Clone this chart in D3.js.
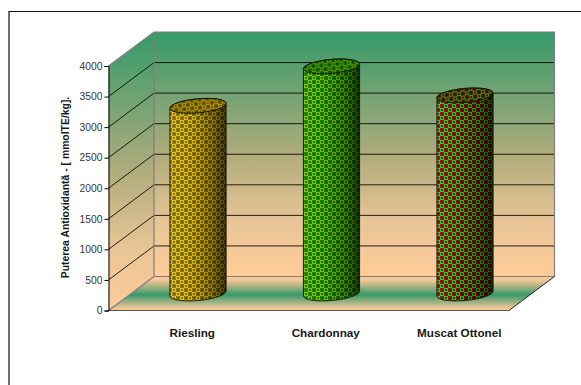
<!DOCTYPE html>
<html>
<head>
<meta charset="utf-8">
<style>
  html, body { margin: 0; padding: 0; background: #fff; }
  svg { display: block; }
  text { font-family: "Liberation Sans", Arial, sans-serif; fill: #1a1a1a; }
</style>
<script src="https://cdn.jsdelivr.net/npm/d3@7/dist/d3.min.js"></script>
</head>
<body>
<svg id="chart" width="581" height="385"></svg>
<script>
// Antioxidant power of three wine varieties
const categories = ["Riesling", "Chardonnay", "Muscat Ottonel"];
const values = [3070, 3715, 3240];
const tickValues = [0, 500, 1000, 1500, 2000, 2500, 3000, 3500, 4000];
const yTitle = "Puterea Antioxidantă - [ mmolTE/kg].";
const barPalettes = [
  { light: "#eec400", dark: "#86720a", deep: "#5e5200" },
  { light: "#8cbc00", dark: "#0a8200", deep: "#006000" },
  { light: "#08e808", dark: "#820a0a", deep: "#5a0000" }
];

const svg = d3.select("#chart");
const defs = svg.append("defs");

// Oblique projection of the box: front-left floor corner plus a depth offset
const front = { left: 108.5, right: 509, bottom: 310.5, top: 66 };
const depth = { x: 45.5, y: -34 };

const y = d3.scaleLinear().domain([0, 4000]).range([front.bottom, front.top]);
const x = d3.scaleBand().domain(categories)
  .range([front.left, front.right]).paddingInner(0.58).paddingOuter(0.29);

function vGrad(id, stops) {
  const g = defs.append("linearGradient").attr("id", id)
    .attr("x1", 0).attr("y1", 0).attr("x2", 0).attr("y2", 1);
  stops.forEach(s => g.append("stop").attr("offset", s[0]).attr("stop-color", s[1]));
  return g;
}

vGrad("wallFill", [[0, "#359a69"], [0.5, "#b0ac7c"], [0.78, "#e9c596"], [1, "#ffcc99"]]);
vGrad("floorFill", [[0, "#ffcc99"], [0.12, "#efc595"], [0.36, "#8bab7d"], [0.54, "#349a69"], [0.72, "#8fad7f"], [0.93, "#f0c696"], [1, "#f8ca97"]]);

// Walls and floor
const bx = front.left + depth.x, rx = front.right + depth.x;
const by = y(0) + depth.y, ty = y(4000) + depth.y;

svg.append("polygon")
  .attr("points", [[bx, ty], [rx, ty], [rx, by], [bx, by]].join(" "))
  .attr("fill", "url(#wallFill)");
svg.append("polygon")
  .attr("points", [[front.left, y(4000)], [bx, ty], [bx, by], [front.left, y(0)]].join(" "))
  .attr("fill", "url(#wallFill)");
svg.append("polygon")
  .attr("points", [[front.left, y(0)], [front.right, y(0)], [rx, by], [bx, by]].join(" "))
  .attr("fill", "url(#floorFill)");

// Gridlines run along the side wall and across the back wall
const grid = svg.append("g").attr("fill", "none").attr("stroke", "#000").attr("stroke-width", 1);
tickValues.filter(v => v > 0 && v < 4000).forEach(v => {
  grid.append("path")
    .attr("d", `M${front.left},${y(v)}L${bx},${y(v) + depth.y}L${rx},${y(v) + depth.y}`)
    .attr("stroke-opacity", 0.85);
});

// Box outlines
const edges = svg.append("g").attr("fill", "none").attr("stroke", "#7f7f7f").attr("stroke-width", 1.2);
edges.append("path").attr("d", `M${front.left},${y(4000)}L${bx},${ty}L${rx},${ty}L${rx},${by}`);
edges.append("path").attr("d", `M${bx},${ty}L${bx},${by}L${rx},${by}`);
edges.append("path").attr("d", `M${front.left},${y(0)}L${bx},${by}`);
edges.append("path").attr("d", `M${front.left},${y(0)}L${front.right},${y(0)}`).attr("stroke", "#555");
svg.append("path").attr("d", `M${front.right},${y(0)}L${rx},${by}`)
  .attr("stroke", "#222").attr("fill", "none");

// Value axis
const axis = d3.axisLeft(y).tickValues(tickValues).tickSize(4).tickPadding(2).tickFormat(d3.format("d"));
const axisG = svg.append("g").attr("transform", `translate(${front.left},0)`).call(axis);
axisG.select(".domain").attr("stroke", "#000");
axisG.selectAll(".tick line").attr("stroke", "#000");
axisG.selectAll(".tick text").attr("font-size", 10.3)
  .style("font-family", '"Liberation Sans", Arial, sans-serif').style("fill", "#333");

// Category labels
svg.append("g").selectAll("text").data(categories).join("text")
  .attr("x", d => x(d) + x.bandwidth() / 2 + 17)
  .attr("y", 336.5)
  .attr("text-anchor", "middle")
  .attr("font-size", 11.7)
  .attr("font-weight", "bold")
  .text(d => d);

// Axis title
svg.append("text")
  .attr("transform", "translate(69,187.5) rotate(-90)")
  .attr("text-anchor", "middle")
  .attr("font-size", 10.4)
  .attr("font-weight", "bold")
  .text(yTitle);

// Dotted checker fill and a left-to-right shading for each cylinder
barPalettes.forEach((p, i) => {
  const pat = defs.append("pattern").attr("id", `weave${i}`)
    .attr("patternUnits", "userSpaceOnUse").attr("width", 8).attr("height", 8);
  pat.append("rect").attr("width", 8).attr("height", 8).attr("fill", p.light);
  [[0, 0], [4, 4]].forEach(o => {
    pat.append("rect").attr("x", o[0]).attr("y", o[1]).attr("width", 4).attr("height", 4).attr("fill", p.dark);
  });
  [[2, 6], [6, 2]].forEach(o => {
    pat.append("circle").attr("cx", o[0]).attr("cy", o[1]).attr("r", 1.3).attr("fill", p.dark);
  });
  [[2, 2], [6, 6]].forEach(o => {
    pat.append("circle").attr("cx", o[0]).attr("cy", o[1]).attr("r", 1).attr("fill", p.deep);
  });
});
const shade = defs.append("linearGradient").attr("id", "cylShade")
  .attr("x1", 0).attr("y1", 0).attr("x2", 1).attr("y2", 0);
[[0, "#fff", 0.1], [0.2, "#fff", 0.04], [0.45, "#000", 0.08], [0.75, "#000", 0.34], [1, "#000", 0.68]]
  .forEach(s => shade.append("stop").attr("offset", s[0]).attr("stop-color", s[1]).attr("stop-opacity", s[2]));

// Cylinders stand halfway back on the floor
const cylRx = 28.2, cylRy = 7, tilt = -5.2;
const cx = d => x(d) + x.bandwidth() / 2 + depth.x / 2;
const ey = v => y(v) + depth.y / 2;
const rad = tilt * Math.PI / 180;

// Point on the tilted rim; angle 0 is the right end, PI/2 the near side
const rim = (c, m, a) => [
  c + cylRx * Math.cos(a) * Math.cos(rad) - cylRy * Math.sin(a) * Math.sin(rad),
  m + cylRx * Math.cos(a) * Math.sin(rad) + cylRy * Math.sin(a) * Math.cos(rad)
];
const sweep = d3.range(0, 49).map(k => k * Math.PI / 48);
const line = d3.line();

const bars = svg.append("g").selectAll("g").data(categories).join("g");
bars.each(function (d, i) {
  const g = d3.select(this);
  const c = cx(d), t = ey(values[i]), b = ey(0);
  // Near rim of the base from right to left, then the far rim of the top back to the right
  const lower = sweep.map(a => rim(c, b, a));
  const upper = sweep.map(a => rim(c, t, -a)).reverse();
  const body = line(lower.concat(upper)) + "Z";
  g.append("path").attr("d", body).attr("fill", `url(#weave${i})`);
  g.append("path").attr("d", body).attr("fill", "url(#cylShade)");
  g.append("path").attr("d", body).attr("fill", "none").attr("stroke", "#111").attr("stroke-width", 0.9);
  g.append("ellipse")
    .attr("transform", `translate(${c},${t}) rotate(${tilt})`)
    .attr("rx", cylRx).attr("ry", cylRy)
    .attr("fill", `url(#weave${i})`);
  g.append("ellipse")
    .attr("transform", `translate(${c},${t}) rotate(${tilt})`)
    .attr("rx", cylRx).attr("ry", cylRy)
    .attr("fill", "#000").attr("fill-opacity", 0.2)
    .attr("stroke", "#111").attr("stroke-width", 0.9);
});

// Outer frame: only its top and left rules fall inside the page
svg.append("path").attr("d", "M9,385L9,11.5L581,11.5")
  .attr("fill", "none").attr("stroke", "#111").attr("stroke-width", 1.2);
</script>
</body>
</html>
